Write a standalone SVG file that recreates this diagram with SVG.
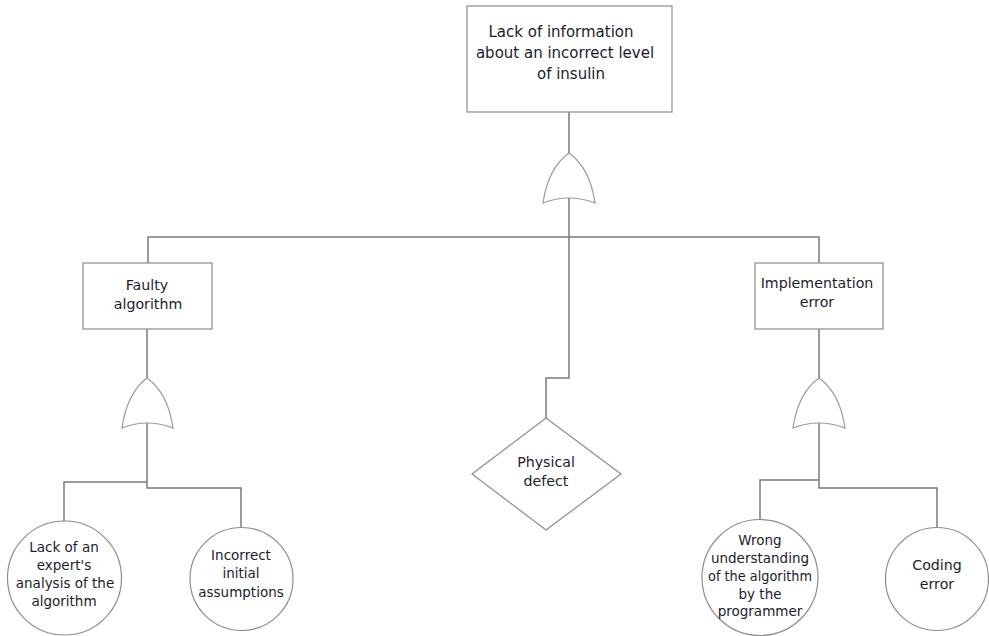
<svg xmlns="http://www.w3.org/2000/svg" width="989" height="636" viewBox="0 0 989 636">
<style>
.box{fill:#fff;stroke:#8c8c8c;stroke-width:1.2}
.gate{fill:#fff;stroke:#9a9a9a;stroke-width:1.2}
.wire{fill:none;stroke:#7a7a7a;stroke-width:1.5}
text{font-family:"DejaVu Sans",Verdana,sans-serif;font-size:13.5px;fill:#1c1c2c;text-anchor:middle}
.big{font-size:15px}
.mid{font-size:14.2px}
</style>
<rect width="989" height="636" fill="#fff"/>
<g id="connectors">
<path class="wire" d="M569,112 V153 M569,198 V378 H546 V418"/>
<path class="wire" d="M148,263 V237 H819 V263"/>
<path class="wire" d="M147,329 V378 M147,423 V482 H64 V521 M147,482 V488 H241 V527"/>
<path class="wire" d="M819,329 V378 M819,423 V480 H760 V519 M819,480 V488 H937 V527"/>
</g>
<g id="top">
<rect class="box" x="467" y="6" width="205" height="106"/>
<text class="big" x="561" y="37">Lack of information</text>
<text class="big" x="565" y="58">about an incorrect level</text>
<text class="big" x="571" y="79">of insulin</text>
</g>
<g id="gate-top"><path class="gate" d="M543,203 Q548,168 569,153 Q590,168 595,203 Q569,193 543,203 Z"/></g>
<g id="faulty">
<rect class="box" x="83" y="263" width="129" height="66"/>
<text class="mid" x="147" y="290">Faulty</text>
<text class="mid" x="148" y="309">algorithm</text>
</g>
<g id="gate-left"><path class="gate" d="M122,428 Q127,393 147,378 Q168,393 173,428 Q147,418 122,428 Z"/></g>
<g id="impl">
<rect class="box" x="755" y="263" width="128" height="66"/>
<text class="mid" x="817" y="288">Implementation</text>
<text class="mid" x="817" y="307">error</text>
</g>
<g id="gate-right"><path class="gate" d="M793,428 Q798,393 819,378 Q840,393 845,428 Q819,418 793,428 Z"/></g>
<g id="physical">
<path class="box" d="M546,418 L621,474 L546,530 L472,474 Z"/>
<text class="mid" x="546" y="467">Physical</text>
<text class="mid" x="546" y="486">defect</text>
</g>
<g id="lack-expert">
<circle class="box" cx="64.5" cy="578" r="57"/>
<text x="64" y="552">Lack of an</text>
<text x="64" y="570">expert's</text>
<text x="65" y="588">analysis of the</text>
<text x="64" y="606">algorithm</text>
</g>
<g id="incorrect">
<circle class="box" cx="241.5" cy="579" r="51.5"/>
<text x="241" y="560">Incorrect</text>
<text x="241" y="578">initial</text>
<text x="241" y="597">assumptions</text>
</g>
<g id="wrong">
<circle class="box" cx="760" cy="577.5" r="58"/>
<text x="760" y="545">Wrong</text>
<text x="760" y="563">understanding</text>
<text x="760" y="581" textLength="104" lengthAdjust="spacingAndGlyphs">of the algorithm</text>
<text x="760" y="599">by the</text>
<text x="760" y="616">programmer</text>
</g>
<g id="coding">
<circle class="box" cx="937" cy="579" r="51.5"/>
<text class="mid" x="937" y="570">Coding</text>
<text class="mid" x="937" y="589">error</text>
</g>
</svg>
